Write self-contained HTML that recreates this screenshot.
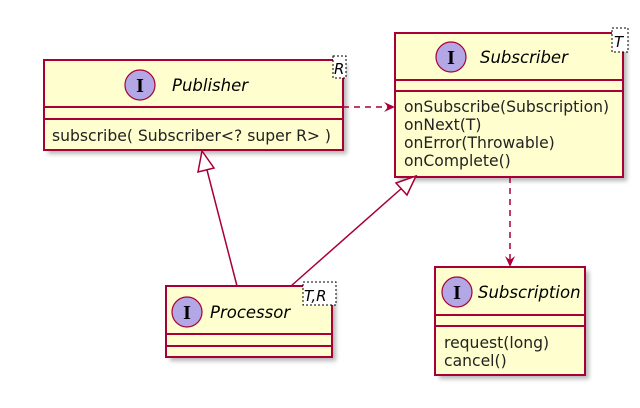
<!DOCTYPE html>
<html><head><meta charset="utf-8"><style>html,body{margin:0;padding:0;background:#fff}svg{display:block}</style></head><body>
<svg width="640" height="408" viewBox="0 0 640 408" xmlns="http://www.w3.org/2000/svg" font-family="'DejaVu Sans','Liberation Sans',sans-serif">
<defs><filter id="sh" x="-10%" y="-10%" width="130%" height="140%"><feGaussianBlur stdDeviation="2"/></filter></defs>
<g fill="#888" opacity="0.6" filter="url(#sh)">
<rect x="48" y="64" width="299" height="90"/>
<rect x="399" y="37" width="228" height="144"/>
<rect x="170" y="290" width="166" height="71"/>
<rect x="439" y="271" width="150" height="108"/>
</g>
<g stroke="#A80036" stroke-width="2" fill="#FEFECE">
<rect x="44" y="60" width="299" height="90"/>
<line x1="44" y1="107" x2="343" y2="107"/><line x1="44" y1="119" x2="343" y2="119"/>
<rect x="395" y="33" width="228" height="144"/>
<line x1="395" y1="80" x2="623" y2="80"/><line x1="395" y1="91" x2="623" y2="91"/>
<rect x="166" y="286" width="166" height="71"/>
<line x1="166" y1="334" x2="332" y2="334"/><line x1="166" y1="346" x2="332" y2="346"/>
<rect x="435" y="267" width="150" height="108"/>
<line x1="435" y1="315" x2="585" y2="315"/><line x1="435" y1="326" x2="585" y2="326"/>
</g>
<g fill="#B4A7E5" stroke="#A80036" stroke-width="1.2">
<circle cx="140" cy="85" r="15"/><circle cx="451" cy="57" r="15"/><circle cx="187" cy="312" r="15"/><circle cx="457" cy="292" r="15"/>
</g>
<g font-family="'Liberation Serif',serif" font-weight="bold" font-size="20" text-anchor="middle" fill="#000">
<text x="140" y="92">I</text><text x="451" y="64">I</text><text x="187" y="319">I</text><text x="457" y="299">I</text>
</g>
<g font-style="italic" font-size="16.5" fill="#000">
<text x="172" y="91">Publisher</text><text x="480" y="63">Subscriber</text><text x="210" y="318">Processor</text><text x="478" y="298">Subscription</text>
</g>
<g font-size="15.6" fill="#222">
<text x="52" y="141">subscribe( Subscriber&lt;? super R&gt; )</text>
<text x="404" y="112">onSubscribe(Subscription)</text>
<text x="404" y="130">onNext(T)</text>
<text x="404" y="148">onError(Throwable)</text>
<text x="404" y="166">onComplete()</text>
<text x="444" y="348">request(long)</text>
<text x="444" y="366">cancel()</text>
</g>
<g fill="#fff" stroke="#000" stroke-width="1" stroke-dasharray="2,2">
<rect x="333" y="56" width="13" height="22"/><rect x="612" y="28" width="16" height="24"/><rect x="303" y="282" width="33" height="23"/>
</g>
<g font-style="italic" font-size="15" fill="#000">
<text x="334" y="74">R</text><text x="614" y="47">T</text><text x="304" y="301">T,R</text>
</g>
<g stroke="#A80036" stroke-width="1.5" fill="none">
<line x1="343" y1="107" x2="392" y2="107" stroke-dasharray="6,5"/>
<line x1="510" y1="177" x2="510" y2="264" stroke-dasharray="6,5"/>
<line x1="237" y1="286" x2="207" y2="170"/>
<line x1="291" y1="286" x2="402" y2="188"/>
</g>
<g fill="#A80036">
<path d="M395,107 L384,102 L388,107 L384,112 Z"/>
<path d="M510,267 L505,256 L510,260 L515,256 Z"/>
</g>
<g fill="#fff" stroke="#A80036" stroke-width="1.5">
<path d="M202,151 L198,172 L214,168 Z"/>
<path d="M416,176 L396,183 L407,195 Z"/>
</g>
</svg>
</body></html>
